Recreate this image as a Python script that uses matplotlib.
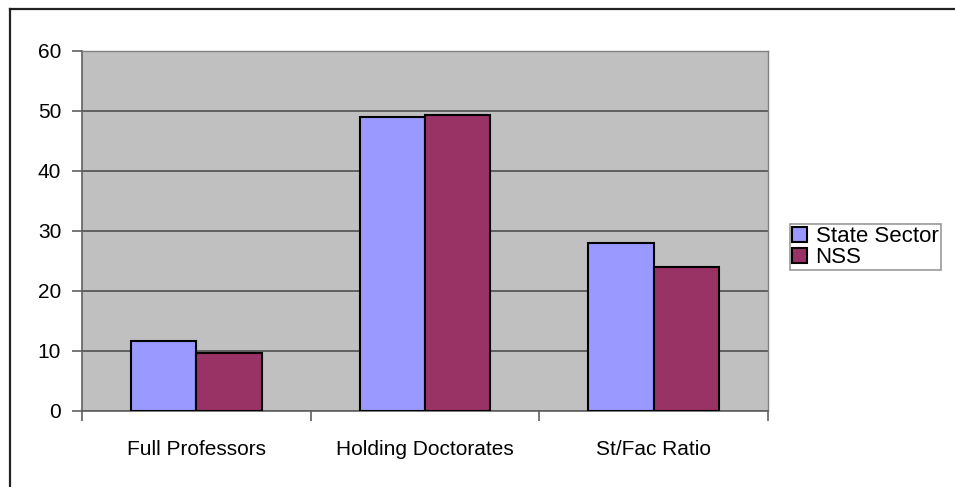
import numpy as np
import matplotlib
matplotlib.use("Agg")
import matplotlib.pyplot as plt
from matplotlib.lines import Line2D

# data
categories = ["Full Professors", "Holding Doctorates", "St/Fac Ratio"]
state_sector = [11.7, 49.0, 28.0]
nss = [9.7, 49.4, 24.0]
y_ticks = [0, 10, 20, 30, 40, 50, 60]

plt.rcParams["font.family"] = ["Liberation Sans", "DejaVu Sans"]
FS = 15

fig = plt.figure(figsize=(9.55, 4.87), dpi=100)
fig.patch.set_facecolor("white")
ax = fig.add_axes([82 / 955, 1 - 411 / 487, (768 - 82) / 955, (411 - 51) / 487])
ax.set_facecolor("#C0C0C0")

x = np.arange(len(categories))
w = 1 / 3.5
ax.bar(x - w / 2, state_sector, w, color="#9999FF", edgecolor="black",
       linewidth=1.5, label="State Sector", zorder=3)
ax.bar(x + w / 2, nss, w, color="#993366", edgecolor="black",
       linewidth=1.5, label="NSS", zorder=3)

ax.set_xlim(-0.5, len(categories) - 0.5)
ax.set_ylim(0, 60)
ax.set_yticks(y_ticks)
ax.yaxis.grid(True, color="#505050", lw=1.2, zorder=1)
ax.set_axisbelow(True)

# category labels between boundary ticks
ax.set_xticks(np.arange(len(categories) + 1) - 0.5)
ax.set_xticklabels([])
ax.set_xticks(x, minor=True)
ax.set_xticklabels(categories, minor=True, fontsize=FS)
ax.tick_params(axis="x", which="minor", length=0, pad=21)
ax.tick_params(axis="x", which="major", length=7, width=1.2, color="#606060")
ax.tick_params(axis="y", length=7, width=1.2, color="#606060", labelsize=FS, pad=8)

for s in ["top", "right"]:
    ax.spines[s].set_color("#808080")
    ax.spines[s].set_linewidth(1)
for s in ["left", "bottom"]:
    ax.spines[s].set_color("#606060")
    ax.spines[s].set_linewidth(1.2)

leg = fig.legend(loc="upper left", bbox_to_anchor=(790 / 955, 1 - 224 / 487),
                 fontsize=16, frameon=True, fancybox=False, edgecolor="#808080",
                 handlelength=0.65, handleheight=0.65, handletextpad=0.4,
                 borderpad=0.1, labelspacing=0.0, borderaxespad=0)
leg.get_frame().set_linewidth(1.2)

# outer chart border (cropped at right and bottom)
fig.add_artist(Line2D([10 / 955, 1], [1 - 9 / 487, 1 - 9 / 487], color="#222222", lw=1.6))
fig.add_artist(Line2D([10 / 955, 10 / 955], [1 - 9 / 487, 0], color="#222222", lw=1.6))

fig.savefig("out.png", dpi=100)
